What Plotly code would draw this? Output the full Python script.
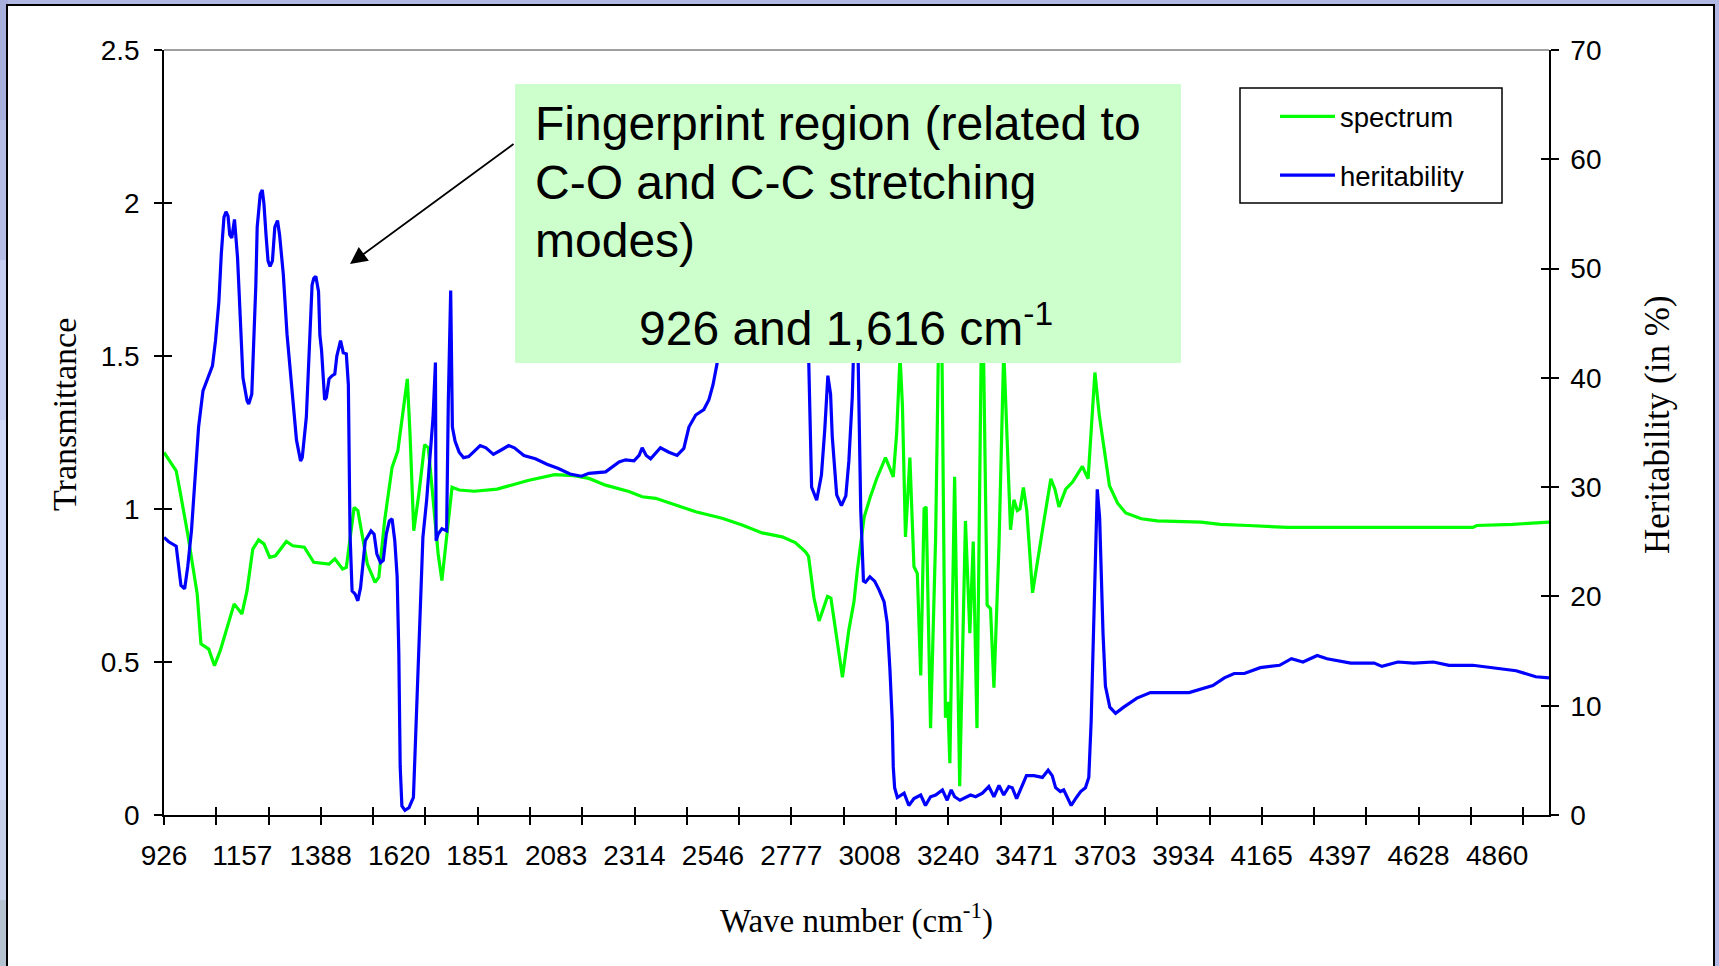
import plotly.graph_objects as go

# ---------------- data ----------------
spec_wn = [926, 962, 973, 996, 1024, 1035, 1058, 1075, 1092, 1109, 1133, 1156, 1171, 1188, 1205, 1221,
           1238, 1255, 1287, 1306, 1340, 1368, 1413, 1430, 1453, 1464, 1487, 1498, 1509, 1526, 1549,
           1560, 1577, 1599, 1616, 1630, 1644, 1652, 1663, 1678, 1695, 1706, 1720, 1735, 1746, 1760,
           1776, 1797, 1842, 1909, 2000, 2079, 2135, 2180, 2229, 2298, 2337, 2377, 2436, 2495, 2573,
           2632, 2691, 2750, 2789, 2819, 2828, 2844, 2859, 2884, 2894, 2911, 2928, 2947, 2962, 2972,
           2992, 3011, 3029, 3055, 3078, 3088, 3098, 3105, 3114, 3127, 3139, 3149, 3159, 3169, 3175,
           3188, 3203, 3213, 3222, 3232, 3239, 3245, 3259, 3274, 3291, 3304, 3314, 3325, 3337, 3343,
           3355, 3365, 3375, 3390, 3404, 3424, 3434, 3444, 3452, 3462, 3472, 3489, 3504, 3521, 3543,
           3555, 3567, 3587, 3607, 3636, 3653, 3663, 3673, 3686, 3701, 3716, 3740, 3764, 3810, 3857,
           3986, 4043, 4125, 4242, 4475, 4788, 4800, 4905, 5013]
spectrum = [1.185, 1.125, 1.06, 0.918, 0.722, 0.559, 0.542, 0.488, 0.537, 0.602, 0.69, 0.657, 0.733, 0.869,
            0.899, 0.886, 0.842, 0.847, 0.894, 0.88, 0.875, 0.826, 0.82, 0.837, 0.804, 0.809, 1.005,
            0.995, 0.929, 0.82, 0.76, 0.777, 0.962, 1.136, 1.19, 1.30, 1.425, 1.245, 0.929, 1.049, 1.21,
            1.2, 1.027, 0.853, 0.766, 0.918, 1.071, 1.062, 1.058, 1.065, 1.093, 1.112, 1.109, 1.100,
            1.078, 1.057, 1.040, 1.035, 1.013, 0.991, 0.970, 0.948, 0.922, 0.909, 0.890, 0.860, 0.845,
            0.709, 0.634, 0.714, 0.709, 0.582, 0.450, 0.605, 0.697, 0.800, 0.973, 1.042, 1.099, 1.168,
            1.105, 1.248, 1.50, 1.34, 0.909, 1.168, 0.812, 0.789, 0.456, 1.001, 1.007, 0.284, 0.907,
            1.65, 1.478, 0.318, 0.370, 0.169, 1.105, 0.094, 0.961, 0.594, 0.894, 0.284, 1.472, 1.62,
            0.686, 0.674, 0.416, 0.881, 1.52, 0.932, 1.03, 0.995, 1.001, 1.07, 0.995, 0.726, 0.835,
            0.95, 1.099, 1.065, 1.007, 1.065, 1.088, 1.139, 1.099, 1.283, 1.446, 1.306, 1.191, 1.076,
            1.019, 0.987, 0.968, 0.961, 0.957, 0.95, 0.946, 0.94, 0.94, 0.94, 0.946, 0.95, 0.957]

her_wn = [926, 940, 962, 968, 976, 987, 996, 1007, 1018, 1028, 1041, 1052, 1069, 1078, 1088, 1095, 1103,
          1109, 1115, 1120, 1126, 1134, 1143, 1148, 1154, 1159, 1171, 1176, 1185, 1190, 1197, 1201,
          1210, 1216, 1221, 1227, 1233, 1239, 1246, 1253, 1261, 1267, 1278, 1289, 1306, 1317, 1329,
          1334, 1346, 1357, 1363, 1368, 1374, 1382, 1386, 1391, 1400, 1405, 1413, 1422, 1430, 1436,
          1447, 1455, 1464, 1470, 1475, 1481, 1490, 1498, 1506, 1520, 1537, 1546, 1554, 1565, 1573,
          1582, 1591, 1599, 1607, 1614, 1619, 1623, 1628, 1637, 1649, 1662, 1667, 1674, 1690, 1701,
          1712, 1720, 1727, 1729, 1735, 1746, 1760, 1765, 1772, 1777, 1785, 1797, 1810, 1825, 1842,
          1859, 1876, 1898, 1921, 1943, 1960, 1988, 2022, 2056, 2090, 2124, 2158, 2180, 2229, 2269,
          2288, 2313, 2328, 2337, 2349, 2362, 2391, 2416, 2440, 2460, 2475, 2495, 2519, 2534, 2546,
          2558, 2600, 2700, 2790, 2826, 2837, 2852, 2866, 2876, 2885, 2893, 2898, 2911, 2925, 2938,
          2947, 2957, 2966, 2972, 2982, 2990, 2996, 3009, 3023, 3036, 3051, 3060, 3068, 3075, 3078,
          3082, 3090, 3110, 3124, 3139, 3159, 3173, 3188, 3203, 3223, 3237, 3249, 3259, 3275, 3286,
          3306, 3321, 3341, 3360, 3375, 3390, 3404, 3419, 3429, 3442, 3454, 3471, 3493, 3518, 3535,
          3547, 3557, 3571, 3581, 3603, 3616, 3631, 3645, 3655, 3662, 3670, 3680, 3687, 3697, 3704,
          3717, 3734, 3758, 3797, 3837, 3951, 3986, 4021, 4055, 4084, 4114, 4161, 4218, 4253, 4287,
          4329, 4358, 4428, 4497, 4520, 4567, 4614, 4672, 4718, 4788, 4847, 4916, 4974, 5013]
heritability = [25.4, 25.0, 24.6, 22.8, 21.0, 20.7, 22.7, 26.0, 30.6, 35.5, 38.8, 39.7, 41.1, 43.4, 47.0,
                51.3, 54.7, 55.2, 54.8, 53.1, 52.8, 54.5, 51.0, 47.6, 43.9, 40.0, 37.9, 37.6, 38.5, 42.5,
                48.5, 53.8, 56.8, 57.2, 55.9, 53.1, 50.7, 50.2, 50.7, 53.8, 54.4, 53.1, 49.5, 44.0, 37.9,
                34.3, 32.4, 32.7, 36.4, 44.0, 48.5, 49.1, 49.3, 47.9, 43.9, 42.5, 38.0, 38.2, 39.9, 40.2,
                40.35, 42.0, 43.4, 42.3, 42.2, 39.4, 25.7, 20.5, 20.2, 19.6, 20.8, 25.1, 26.0, 25.7, 23.9,
                23.1, 23.3, 25.7, 26.9, 27.1, 25.1, 21.8, 14.7, 4.4, 0.83, 0.43, 0.67, 1.6, 5.9, 12.0,
                25.4, 28.8, 33.3, 36.4, 41.4, 25.1, 25.7, 26.2, 26.0, 37.9, 48.0, 35.5, 34.2, 33.2, 32.7,
                32.8, 33.3, 33.8, 33.6, 33.0, 33.4, 33.8, 33.6, 32.9, 32.6, 32.1, 31.7, 31.2, 31.0, 31.26,
                31.4, 32.3, 32.5, 32.4, 32.9, 33.6, 32.9, 32.6, 33.6, 33.2, 32.9, 33.55, 35.5, 36.6, 37.1,
                38.0, 39.35, 41.3, 50.0, 56.0, 52.0, 45.0, 30.0, 28.8, 31.1, 35.3, 40.2, 38.5, 34.6, 29.3,
                28.3, 29.2, 32.4, 38.2, 48.0, 46.0, 27.9, 21.4, 21.3, 21.8, 21.4, 20.6, 19.5, 17.6, 13.4,
                8.6, 4.4, 2.5, 1.6, 2.0, 0.87, 1.5, 1.83, 0.87, 1.67, 1.83, 2.3, 1.35, 2.3, 1.67, 1.35,
                1.5, 1.83, 1.67, 2.0, 2.6, 1.67, 2.7, 1.83, 2.6, 2.5, 1.5, 2.3, 3.6, 3.6, 3.44, 4.1, 3.6,
                2.5, 2.15, 2.3, 0.87, 1.5, 2.15, 2.5, 3.44, 8.6, 18.2, 29.8, 27.2, 16.6, 11.8, 9.87, 9.3,
                9.87, 10.7, 11.2, 11.2, 11.5, 11.85, 12.55, 12.95, 12.95, 13.48, 13.7, 14.3, 14.0, 14.6,
                14.3, 13.9, 13.9, 13.6, 14.0, 13.9, 14.0, 13.7, 13.7, 13.48, 13.2, 12.65, 12.55]

x_labels = [926, 1157, 1388, 1620, 1851, 2083, 2314, 2546, 2777, 3008, 3240, 3471,
            3703, 3934, 4165, 4397, 4628, 4860]
x_range = [926, 5013]
x_tick_step = 154.28
y_left_range = [0, 2.5]
y_right_range = [0, 70]

# ---------------- geometry helpers (layout only) ----------------
W, H = 1719, 966
ML, MR, MT, MB = 164, 170, 50, 151
PW, PH = W - ML - MR, H - MT - MB


def fx(p):
    return (p - ML) / PW


def fy(p):
    return (MT + PH - p) / PH


SANS = "Liberation Sans, Arial, sans-serif"
SERIF = "Liberation Serif, Times New Roman, serif"
TICKFONT = dict(family=SANS, size=28, color="black")
LW = 3.2

fig = go.Figure()
fig.add_trace(go.Scatter(x=spec_wn, y=spectrum, name="spectrum", mode="lines",
                         line=dict(color="#00FF00", width=LW), legendgroup="a",
                         xaxis="x", yaxis="y"))
fig.add_trace(go.Scatter(x=her_wn, y=heritability, name="heritability", mode="lines",
                         line=dict(color="#0000FF", width=LW), legendgroup="b",
                         xaxis="x", yaxis="y2"))
# empty helper traces so the overlay axes (cross ticks / labels) are drawn
for xa, ya in [("x2", "y"), ("x3", "y"), ("x", "y3"), ("x", "y4")]:
    fig.add_trace(go.Scatter(x=[], y=[], xaxis=xa, yaxis=ya, showlegend=False, hoverinfo="skip"))

common_x = dict(range=x_range, showgrid=False, zeroline=False)
common_y = dict(showgrid=False, zeroline=False)

fig.update_layout(
    width=W, height=H,
    margin=dict(l=ML, r=MR, t=MT, b=MB),
    paper_bgcolor="#B0B8E3",
    plot_bgcolor="rgba(0,0,0,0)",
    xaxis=dict(**common_x, tickmode="linear", tick0=x_range[0], dtick=x_tick_step,
               ticks="outside", ticklen=8, tickwidth=1.5, tickcolor="black",
               showticklabels=False, showline=True, linecolor="black", linewidth=2,
               anchor="y"),
    xaxis2=dict(**common_x, overlaying="x", anchor="y", side="bottom", tickmode="linear",
                tick0=x_range[0], dtick=x_tick_step, ticks="inside", ticklen=8, tickwidth=1.5,
                tickcolor="black", showticklabels=False, showline=False),
    xaxis3=dict(**common_x, overlaying="x", anchor="y", side="bottom", tickmode="array",
                tickvals=x_labels, ticktext=[str(v) for v in x_labels], ticks="",
                showticklabels=True, tickfont=TICKFONT, ticklabelstandoff=21, showline=False,
                title=dict(text="Wave number (cm<sup>-1</sup>)",
                           font=dict(family=SERIF, size=33, color="black"), standoff=38)),
    yaxis=dict(**common_y, range=y_left_range, dtick=0.5, ticks="outside", ticklen=8,
               tickwidth=1.5, tickcolor="black", showline=True, linecolor="black", linewidth=1.5,
               tickfont=TICKFONT, ticklabelstandoff=9, anchor="x"),
    yaxis3=dict(**common_y, range=y_left_range, dtick=0.5, overlaying="y", side="left",
                anchor="x", ticks="inside", ticklen=8, tickwidth=1.5, tickcolor="black",
                showticklabels=False, showline=False),
    yaxis2=dict(**common_y, range=y_right_range, dtick=10, overlaying="y", side="right",
                anchor="x", ticks="outside", ticklen=8, tickwidth=1.5, tickcolor="black",
                showline=True, linecolor="black", linewidth=1.5, tickfont=TICKFONT,
                ticklabelstandoff=6),
    yaxis4=dict(**common_y, range=y_right_range, dtick=10, overlaying="y", side="right",
                anchor="x", ticks="inside", ticklen=8, tickwidth=1.5, tickcolor="black",
                showticklabels=False, showline=False),
    showlegend=True,
    legend=dict(x=fx(1275), y=fy(92), xanchor="left", yanchor="top",
                bgcolor="rgba(0,0,0,0)", borderwidth=0,
                font=dict(family=SANS, size=27.5, color="black"),
                traceorder="grouped", tracegroupgap=20, itemwidth=55),
)

# ---------------- frame / decoration shapes ----------------
shapes = []
bands = [(0, 120, "#A7AFDD"), (120, 260, "#B5BDE6"), (260, 420, "#C5CDF0"),
         (420, 800, "#D1D9F8"), (800, 900, "#C6D0E8"), (900, 970, "#B5C3D0")]
for y0, y1, col in bands:
    shapes.append(dict(type="rect", xref="paper", yref="paper", x0=fx(-2), x1=fx(8),
                       y0=fy(y1), y1=fy(y0), fillcolor=col, line=dict(width=0), layer="below"))
shapes.append(dict(type="rect", xref="paper", yref="paper", x0=fx(7), x1=fx(1714),
                   y0=fy(985), y1=fy(5), fillcolor="white",
                   line=dict(color="black", width=2), layer="below"))
# plot-area top border (grey)
shapes.append(dict(type="line", xref="paper", yref="paper", x0=0, x1=1, y0=1, y1=1,
                   line=dict(color="#808080", width=1.5), layer="below"))
# annotation box
shapes.append(dict(type="rect", xref="paper", yref="paper", x0=fx(515), x1=fx(1181),
                   y0=fy(363), y1=fy(84), fillcolor="#CCFFCC", line=dict(width=0),
                   layer="above"))
# legend frame
shapes.append(dict(type="rect", xref="paper", yref="paper", x0=fx(1240), x1=fx(1502),
                   y0=fy(203), y1=fy(88), fillcolor="rgba(0,0,0,0)",
                   line=dict(color="black", width=1.5), layer="above"))
fig.update_layout(shapes=shapes)

# ---------------- text annotations ----------------
BOXFONT = dict(family=SANS, size=48, color="black")
anns = []
for txt, yp in [("Fingerprint region (related to", 124), ("C-O and C-C stretching", 182),
                ("modes)", 240)]:
    anns.append(dict(text=txt, xref="paper", yref="paper", x=fx(533), y=fy(yp),
                     xanchor="left", yanchor="middle", showarrow=False, font=BOXFONT))
anns.append(dict(text="926 and 1,616 cm<sup>-1</sup>", xref="paper", yref="paper",
                 x=fx(846), y=fy(325), xanchor="center", yanchor="middle",
                 showarrow=False, font=BOXFONT))
anns.append(dict(text="", xref="paper", yref="paper", x=fx(350), y=fy(264),
                 ax=165, ay=-121, showarrow=True, arrowhead=2, arrowsize=1.9,
                 arrowwidth=1.8, arrowcolor="black"))
# axis titles of the two value axes
anns.append(dict(text="Transmittance", xref="paper", yref="paper", x=fx(64), y=fy(415),
                 xanchor="center", yanchor="middle", textangle=-90, showarrow=False,
                 font=dict(family=SERIF, size=34, color="black")))
anns.append(dict(text="Heritability (in %)", xref="paper", yref="paper", x=fx(1657),
                 y=fy(425), xanchor="center", yanchor="middle", textangle=-90,
                 showarrow=False, font=dict(family=SERIF, size=35, color="black")))
fig.update_layout(annotations=anns)

fig.write_html("out.html",
               config={"displayModeBar": False},
               post_script="document.body.style.margin='0px';"
                           "document.body.style.overflow='hidden';")
